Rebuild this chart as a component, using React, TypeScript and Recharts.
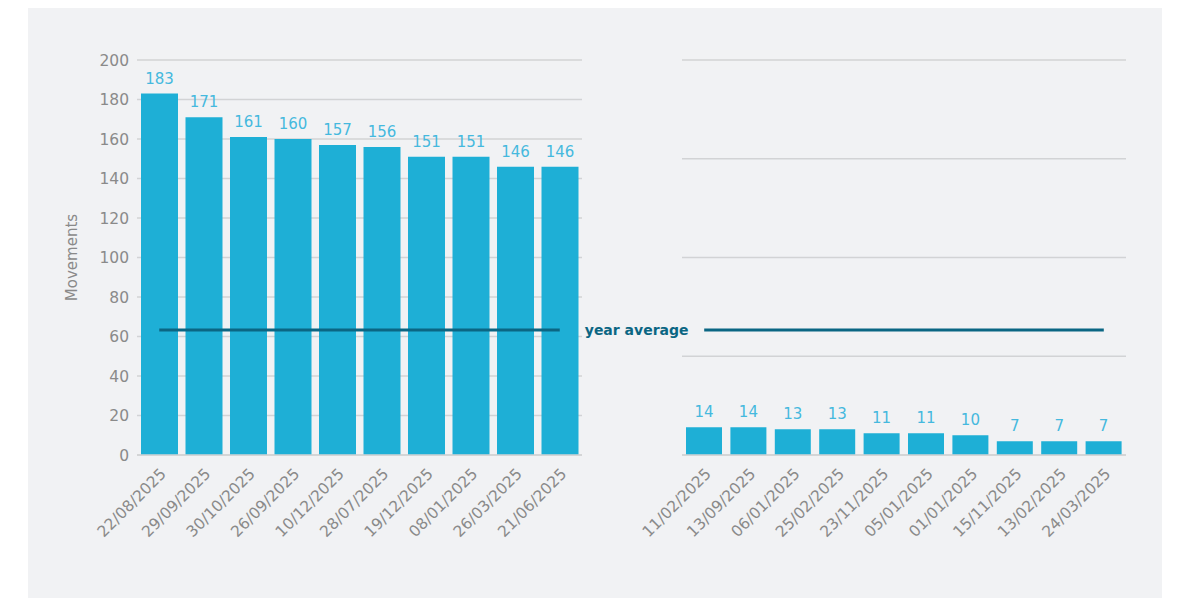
import React from 'react'
import { BarChart, Bar, XAxis, YAxis, CartesianGrid, ReferenceLine, LabelList } from 'recharts'

// top 10 and bottom 10 days by movements
const topDays = ['22/08/2025', '29/09/2025', '30/10/2025', '26/09/2025', '10/12/2025', '28/07/2025', '19/12/2025', '08/01/2025', '26/03/2025', '21/06/2025']
const topValues = [183, 171, 161, 160, 157, 156, 151, 151, 146, 146]
const bottomDays = ['11/02/2025', '13/09/2025', '06/01/2025', '25/02/2025', '23/11/2025', '05/01/2025', '01/01/2025', '15/11/2025', '13/02/2025', '24/03/2025']
const bottomValues = [14, 14, 13, 13, 11, 11, 10, 7, 7, 7]
const yearAverage = 63.3
const leftTicks = [0, 20, 40, 60, 80, 100, 120, 140, 160, 180, 200]
const rightTicks = [0, 50, 100, 150, 200]

const FONT = '"DejaVu Sans", sans-serif'
const BAR = '#1eafd6'
const LABEL = '#45b9de'
const AVG = '#0b6683'
const GRID = '#d2d3d5'
const TICK = '#8a8a8a'

const topData = topDays.map((day, i) => ({ day, value: topValues[i] }))
const bottomData = bottomDays.map((day, i) => ({ day, value: bottomValues[i] }))

const xTick = { fill: TICK, fontSize: 15.5, fontFamily: FONT }

export default function App() {
  return (
    <div style={{ position: 'relative', width: 1134, height: 590, marginLeft: 20, background: '#f1f2f4', fontFamily: FONT }}>
      <div style={{ position: 'absolute', left: 0, top: 0 }}>
        <BarChart width={700} height={560} data={topData} margin={{ top: 52, right: 146, left: 0, bottom: 0 }} barCategoryGap={4}>
          <CartesianGrid vertical={false} stroke={GRID} strokeWidth={1.5} />
          <XAxis dataKey="day" interval={0} angle={-45} textAnchor="end" height={113} tickMargin={6} tick={xTick} tickLine={false} axisLine={{ stroke: GRID, strokeWidth: 1.5 }} />
          <YAxis
            width={109}
            domain={[0, 200]}
            ticks={leftTicks}
            tickLine={false}
            axisLine={false}
            tick={{ fill: TICK, fontSize: 15.5, fontFamily: FONT }}
            label={{ value: 'Movements', angle: -90, position: 'insideLeft', offset: 44, style: { textAnchor: 'middle', fill: TICK, fontSize: 15, fontFamily: FONT } }}
          />
          <Bar dataKey="value" fill={BAR} isAnimationActive={false}>
            <LabelList dataKey="value" position="top" offset={10} fill={LABEL} fontSize={15} fontFamily={FONT} />
          </Bar>
          <ReferenceLine
            segment={[{ x: topDays[0], y: yearAverage }, { x: topDays[topDays.length - 1], y: yearAverage }]}
            stroke={AVG}
            strokeWidth={3}
            label={{ value: 'year average', position: 'right', offset: 25, fill: AVG, fontSize: 14, fontWeight: 700, fontFamily: FONT }}
          />
        </BarChart>
      </div>
      <div style={{ position: 'absolute', left: 600, top: 0 }}>
        <BarChart width={514} height={560} data={bottomData} margin={{ top: 52, right: 16, left: 54, bottom: 0 }} barCategoryGap={4}>
          <CartesianGrid vertical={false} stroke={GRID} strokeWidth={1.5} />
          <XAxis dataKey="day" interval={0} angle={-45} textAnchor="end" height={113} tickMargin={6} tick={xTick} tickLine={false} axisLine={{ stroke: GRID, strokeWidth: 1.5 }} />
          <YAxis width={0} domain={[0, 200]} ticks={rightTicks} tick={<g />} tickLine={false} axisLine={false} />
          <Bar dataKey="value" fill={BAR} isAnimationActive={false}>
            <LabelList dataKey="value" position="top" offset={10} fill={LABEL} fontSize={15} fontFamily={FONT} />
          </Bar>
          <ReferenceLine
            segment={[{ x: bottomDays[0], y: yearAverage }, { x: bottomDays[bottomDays.length - 1], y: yearAverage }]}
            stroke={AVG}
            strokeWidth={3}
          />
        </BarChart>
      </div>
    </div>
  )
}
